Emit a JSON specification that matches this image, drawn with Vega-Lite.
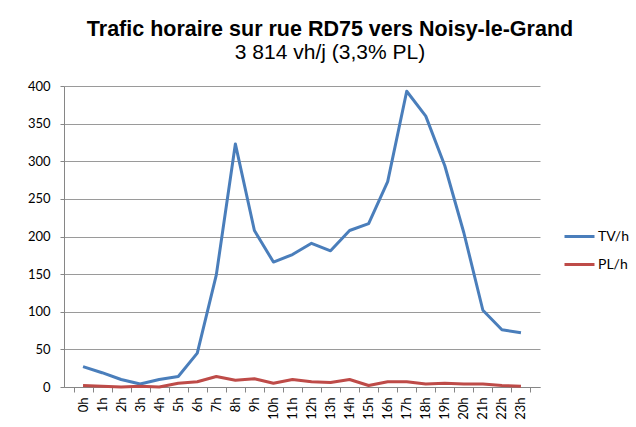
{
  "$schema": "https://vega.github.io/schema/vega-lite/v6.json",
  "width": 476,
  "height": 301,
  "autosize": "none",
  "padding": {"left": 64, "top": 86, "right": 96, "bottom": 40},
  "background": "white",
  "title": {
    "text": "Trafic horaire sur rue RD75 vers Noisy-le-Grand",
    "subtitle": "3 814 vh/j (3,3% PL)",
    "font": "Liberation Sans",
    "fontSize": 21.5,
    "fontWeight": "bold",
    "color": "black",
    "subtitleFont": "Liberation Sans",
    "subtitleFontSize": 21,
    "subtitleColor": "black",
    "subtitlePadding": 2,
    "anchor": "middle",
    "frame": "group",
    "dx": 28,
    "offset": 17
  },
  "data": {
    "values": [
      {"hour": "0h", "series": "TV/h", "value": 27},
      {"hour": "1h", "series": "TV/h", "value": 19},
      {"hour": "2h", "series": "TV/h", "value": 10},
      {"hour": "3h", "series": "TV/h", "value": 4},
      {"hour": "4h", "series": "TV/h", "value": 10},
      {"hour": "5h", "series": "TV/h", "value": 14},
      {"hour": "6h", "series": "TV/h", "value": 45},
      {"hour": "7h", "series": "TV/h", "value": 149},
      {"hour": "8h", "series": "TV/h", "value": 323},
      {"hour": "9h", "series": "TV/h", "value": 208},
      {"hour": "10h", "series": "TV/h", "value": 166},
      {"hour": "11h", "series": "TV/h", "value": 176},
      {"hour": "12h", "series": "TV/h", "value": 191},
      {"hour": "13h", "series": "TV/h", "value": 181},
      {"hour": "14h", "series": "TV/h", "value": 208},
      {"hour": "15h", "series": "TV/h", "value": 217},
      {"hour": "16h", "series": "TV/h", "value": 273},
      {"hour": "17h", "series": "TV/h", "value": 393},
      {"hour": "18h", "series": "TV/h", "value": 360},
      {"hour": "19h", "series": "TV/h", "value": 294},
      {"hour": "20h", "series": "TV/h", "value": 205},
      {"hour": "21h", "series": "TV/h", "value": 102},
      {"hour": "22h", "series": "TV/h", "value": 76},
      {"hour": "23h", "series": "TV/h", "value": 72},
      {"hour": "0h", "series": "PL/h", "value": 2},
      {"hour": "1h", "series": "PL/h", "value": 1},
      {"hour": "2h", "series": "PL/h", "value": 0},
      {"hour": "3h", "series": "PL/h", "value": 1},
      {"hour": "4h", "series": "PL/h", "value": 0},
      {"hour": "5h", "series": "PL/h", "value": 5},
      {"hour": "6h", "series": "PL/h", "value": 7},
      {"hour": "7h", "series": "PL/h", "value": 14},
      {"hour": "8h", "series": "PL/h", "value": 9},
      {"hour": "9h", "series": "PL/h", "value": 11},
      {"hour": "10h", "series": "PL/h", "value": 5},
      {"hour": "11h", "series": "PL/h", "value": 10},
      {"hour": "12h", "series": "PL/h", "value": 7},
      {"hour": "13h", "series": "PL/h", "value": 6},
      {"hour": "14h", "series": "PL/h", "value": 10},
      {"hour": "15h", "series": "PL/h", "value": 2},
      {"hour": "16h", "series": "PL/h", "value": 7},
      {"hour": "17h", "series": "PL/h", "value": 7},
      {"hour": "18h", "series": "PL/h", "value": 4},
      {"hour": "19h", "series": "PL/h", "value": 5},
      {"hour": "20h", "series": "PL/h", "value": 4},
      {"hour": "21h", "series": "PL/h", "value": 4},
      {"hour": "22h", "series": "PL/h", "value": 2},
      {"hour": "23h", "series": "PL/h", "value": 1}
    ]
  },
  "mark": {"type": "line", "strokeWidth": 3, "strokeJoin": "round", "strokeCap": "butt"},
  "encoding": {
    "x": {
      "field": "hour",
      "type": "ordinal",
      "scale": {"domain": ["0h","1h","2h","3h","4h","5h","6h","7h","8h","9h","10h","11h","12h","13h","14h","15h","16h","17h","18h","19h","20h","21h","22h","23h"], "paddingInner": 0, "paddingOuter": 0.5},
      "axis": {
        "title": null,
        "labelAngle": -90,
        "labelFont": "Lato",
        "labelFontSize": 13,
        "labelColor": "black",
        "labelPadding": 5,
        "tickBand": "extent",
        "tickSize": 5,
        "tickColor": "#868686",
        "domainColor": "#868686",
        "grid": false
      }
    },
    "y": {
      "field": "value",
      "type": "quantitative",
      "scale": {"domain": [0, 400], "nice": false},
      "axis": {
        "title": null,
        "values": [0, 50, 100, 150, 200, 250, 300, 350, 400],
        "labelFont": "Lato",
        "labelFontSize": 13,
        "labelColor": "black",
        "labelPadding": 10,
        "tickSize": 4,
        "tickColor": "#868686",
        "domainColor": "#868686",
        "gridColor": "#9a9a9a",
        "gridWidth": 1
      }
    },
    "color": {
      "field": "series",
      "type": "nominal",
      "scale": {"domain": ["TV/h", "PL/h"], "range": ["#4a7ebb", "#be4b48"]},
      "legend": {
        "title": null,
        "orient": "none",
        "legendX": 499,
        "legendY": 134,
        "symbolType": "stroke",
        "symbolSize": 900,
        "symbolStrokeWidth": 3,
        "labelFont": "Lato",
        "labelFontSize": 14,
        "labelColor": "black",
        "labelOffset": 2,
        "rowPadding": 4
      }
    }
  },
  "config": {"view": {"stroke": null}}
}
